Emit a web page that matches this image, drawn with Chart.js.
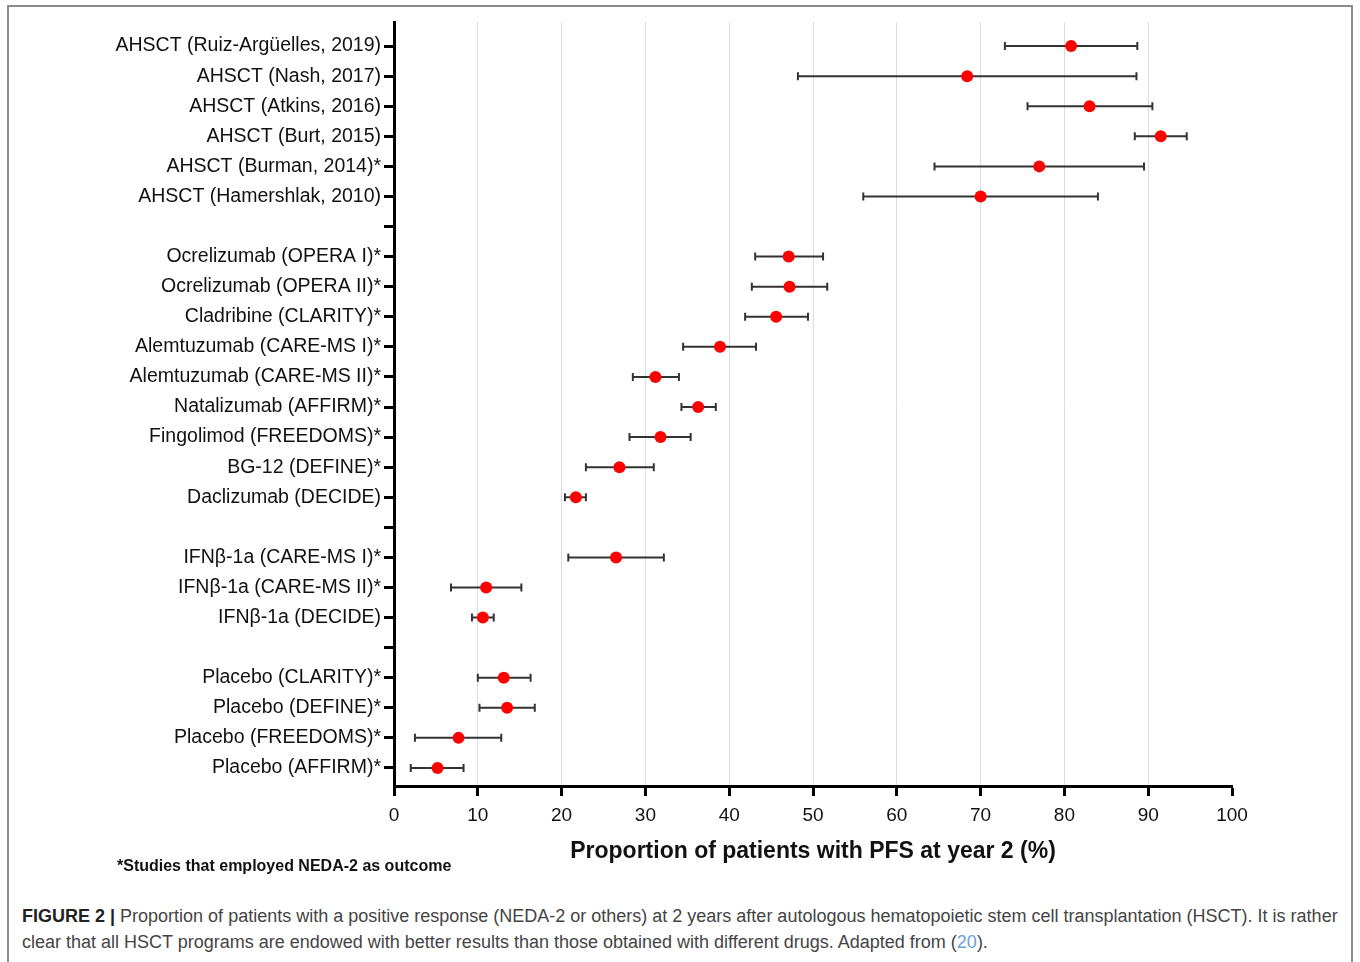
<!DOCTYPE html>
<html>
<head>
<meta charset="utf-8">
<script src="https://cdn.jsdelivr.net/npm/chart.js@4"></script>
<style>
    body { margin: 0; background: #fff; width: 1360px; height: 962px; overflow: hidden; position: relative; }
    #frame { position: absolute; left: 7px; top: 5px; width: 1346px; height: 980px; border: 2px solid #8c8c8c; box-sizing: border-box; }
    #chartWrap { position: absolute; left: 0; top: 0; width: 1360px; height: 880px; }
    #footnote { position: absolute; left: 117px; top: 857px; font: bold 16px 'Liberation Sans', Arial, sans-serif; color: #111; white-space: nowrap; }
    #caption { position: absolute; left: 22px; top: 903px; font: 18px/26px 'Liberation Sans', Arial, sans-serif; color: #444; white-space: nowrap; }
    #caption b { color: #222; }
    #caption .ref { color: #6a9fd4; }
</style>
</head>
<body>
<div id="frame"></div>
<div id="chartWrap"><canvas id="pfsChart" width="1360" height="880"></canvas></div>
<div id="footnote">*Studies that employed NEDA-2 as outcome</div>
<div id="caption"><b>FIGURE 2 |</b> Proportion of patients with a positive response (NEDA-2 or others) at 2 years after autologous hematopoietic stem cell transplantation (HSCT). It is rather<br>clear that all HSCT programs are endowed with better results than those obtained with different drugs. Adapted from (<span class="ref">20</span>).</div>
<script>
// ─── Data (blank strings / nulls are spacer rows) ───
const studies = [
    'AHSCT (Ruiz-Argüelles, 2019)', 'AHSCT (Nash, 2017)', 'AHSCT (Atkins, 2016)', 'AHSCT (Burt, 2015)',
    'AHSCT (Burman, 2014)*', 'AHSCT (Hamershlak, 2010)', '',
    'Ocrelizumab (OPERA I)*', 'Ocrelizumab (OPERA II)*', 'Cladribine (CLARITY)*', 'Alemtuzumab (CARE-MS I)*',
    'Alemtuzumab (CARE-MS II)*', 'Natalizumab (AFFIRM)*', 'Fingolimod (FREEDOMS)*', 'BG-12 (DEFINE)*',
    'Daclizumab (DECIDE)', '',
    'IFNβ-1a (CARE-MS I)*', 'IFNβ-1a (CARE-MS II)*', 'IFNβ-1a (DECIDE)', '',
    'Placebo (CLARITY)*', 'Placebo (DEFINE)*', 'Placebo (FREEDOMS)*', 'Placebo (AFFIRM)*'
];
const pfs   = [80.8, 68.4, 83.0, 91.5, 77.0, 70.0, null, 47.1, 47.2, 45.6, 38.9, 31.2, 36.3, 31.8, 26.9, 21.7, null, 26.5, 11.0, 10.6, null, 13.1, 13.5, 7.7, 5.2];
const lower = [72.9, 48.2, 75.6, 88.4, 64.5, 56.0, null, 43.1, 42.7, 41.9, 34.5, 28.5, 34.3, 28.1, 22.9, 20.4, null, 20.8, 6.8, 9.3, null, 10.0, 10.2, 2.5, 2.0];
const upper = [88.7, 88.6, 90.5, 94.6, 89.5, 84.0, null, 51.2, 51.7, 49.4, 43.2, 34.0, 38.4, 35.4, 31.0, 22.9, null, 32.2, 15.2, 11.9, null, 16.3, 16.8, 12.8, 8.3];
const xTicks = [0, 10, 20, 30, 40, 50, 60, 70, 80, 90, 100];

const FONT = "'Liberation Sans', Arial, Helvetica, sans-serif";

// ─── Error bars drawn under the points ───
const errorBars = {
    id: 'errorBars',
    beforeDatasetsDraw(chart) {
        const { ctx, scales: { x, y } } = chart;
        ctx.save();
        ctx.strokeStyle = '#333';
        ctx.lineWidth = 2;
        lower.forEach((lo, i) => {
            if (lo == null) return;
            const x0 = x.getPixelForValue(lo);
            const x1 = x.getPixelForValue(upper[i]);
            const yy = y.getPixelForValue(i);
            ctx.beginPath();
            ctx.moveTo(x0, yy); ctx.lineTo(x1, yy);
            ctx.moveTo(x0, yy - 4); ctx.lineTo(x0, yy + 4);
            ctx.moveTo(x1, yy - 4); ctx.lineTo(x1, yy + 4);
            ctx.stroke();
        });
        ctx.restore();
    }
};

const points = pfs.map((v, i) => v == null ? null : { x: v, y: i }).filter(p => p);

new Chart(document.getElementById('pfsChart'), {
    type: 'scatter',
    data: {
        datasets: [{
            label: 'PFS at year 2',
            data: points,
            backgroundColor: '#ff0000',
            borderWidth: 0,
            pointRadius: 6,
            pointHoverRadius: 6
        }]
    },
    options: {
        responsive: false,
        animation: false,
        layout: { padding: { top: 22, right: 128, bottom: 0, left: 0 } },
        plugins: { legend: { display: false }, tooltip: { enabled: false } },
        scales: {
            x: {
                type: 'linear', min: 0, max: 100,
                afterBuildTicks: s => { s.ticks = xTicks.map(v => ({ value: v })); },
                afterFit: s => { s.height = 94; },
                ticks: { color: '#111', font: { family: FONT, size: 19 }, padding: 8 },
                grid: {
                    color: c => (c.tick && c.tick.value === 100) ? 'rgba(0,0,0,0)' : '#dcdcdc',
                    lineWidth: 1, tickLength: 10, tickColor: '#000', tickWidth: 3
                },
                border: { color: '#000', width: 3 },
                title: {
                    display: true,
                    text: 'Proportion of patients with PFS at year 2 (%)',
                    color: '#111',
                    font: { family: FONT, size: 23, weight: 'bold' },
                    padding: { top: 0, bottom: 15 }
                }
            },
            y: {
                type: 'linear', reverse: true, min: -0.8, max: 24.6,
                afterBuildTicks: s => { s.ticks = studies.map((_, i) => ({ value: i })); },
                afterFit: s => { s.width = 394; },
                ticks: { callback: v => studies[v], color: '#111', font: { family: FONT, size: 19.5 }, padding: 3, autoSkip: false },
                grid: { drawOnChartArea: false, tickLength: 10, tickColor: '#000', tickWidth: 3 },
                border: { color: '#000', width: 3 }
            }
        }
    },
    plugins: [errorBars]
});
</script>
</body>
</html>
